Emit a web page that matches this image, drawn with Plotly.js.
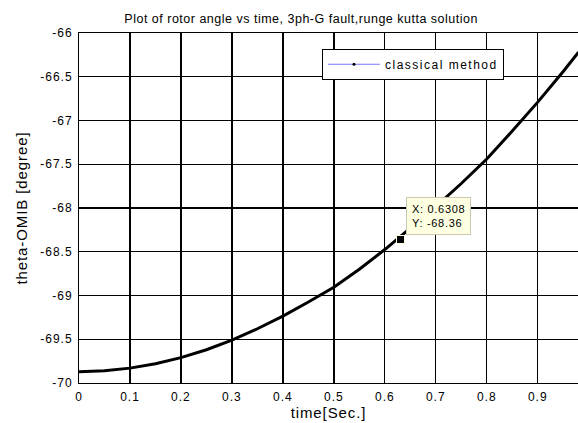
<!DOCTYPE html>
<html><head><meta charset="utf-8">
<script src="https://cdn.plot.ly/plotly-3.0.1.min.js"></script>
<style>
html,body{margin:0;padding:0;background:#fff}
#chart{width:578px;height:423px}
.gtitle{letter-spacing:0.5px}
.xtick text,.ytick text{letter-spacing:1px}
.xtitle,.ytitle{letter-spacing:0.9px}
.legendtext{letter-spacing:1.5px}
.annotation-text{letter-spacing:0.7px}
</style>
</head><body><div id="chart"></div>
<script>
const timeSec = [0, 0.05, 0.1, 0.15, 0.2, 0.25, 0.3, 0.35, 0.4, 0.45, 0.5, 0.55, 0.6, 0.65, 0.7, 0.75, 0.8, 0.85, 0.9, 0.95, 0.98];
const thetaDeg = [-69.87, -69.86, -69.83, -69.78, -69.71, -69.62, -69.51, -69.38, -69.235, -69.075, -68.905, -68.70, -68.475, -68.235, -67.985, -67.72, -67.44, -67.12, -66.79, -66.44, -66.22];
const tipX = [0.6308];
const tipY = [-68.36];
const xTicks = [0, 0.1, 0.2, 0.3, 0.4, 0.5, 0.6, 0.7, 0.8, 0.9];
const yTicks = [-70, -69.5, -69, -68.5, -68, -67.5, -67, -66.5, -66];
const legendName = 'classical method';

const font = {family: 'Liberation Sans, Arial, sans-serif', color: '#000'};
const f = s => Object.assign({size: s}, font);
const traces = [
  {x: timeSec, y: thetaDeg, mode: 'lines', line: {color: '#000', width: 3}, showlegend: false, hoverinfo: 'skip'},
  {x: tipX, y: tipY, mode: 'markers', marker: {symbol: 'square', size: 8, color: '#000', line: {color: '#ffffe1', width: 1}}, showlegend: false},
  {x: [null], y: [null], mode: 'lines+markers', name: legendName, line: {color: '#7878ff', width: 1.2}, marker: {color: '#000', size: 3}}
];
const layout = {
  width: 578, height: 423,
  margin: {l: 79, r: 0, t: 33, b: 40},
  paper_bgcolor: '#fff', plot_bgcolor: '#fff',
  font: f(12),
  title: {text: 'Plot of rotor angle vs time, 3ph-G fault,runge kutta solution', font: f(12.5), x: 0.521, xanchor: 'center', y: 0.956, yanchor: 'middle'},
  xaxis: {range: [0, 0.979], tickvals: xTicks, ticktext: xTicks.map(String), showgrid: true, gridcolor: '#000', gridwidth: 1.3,
    showline: true, linecolor: '#000', linewidth: 1, mirror: true, zeroline: false, ticks: '', ticklabelstandoff: 3,
    tickfont: f(12),
    title: {text: 'time[Sec.]', font: f(15), standoff: 0}},
  yaxis: {range: [-70, -66], tickvals: yTicks, ticktext: yTicks.map(String), showgrid: true, gridcolor: '#000', gridwidth: 1.3,
    showline: true, linecolor: '#000', linewidth: 1, zeroline: false, ticks: '', ticklabelstandoff: 3,
    tickfont: f(12),
    title: {text: 'theta-OMIB [degree]', font: f(15), standoff: 8}},
  legend: {x: 0.487, y: 0.955, xanchor: 'left', yanchor: 'top', bgcolor: '#fff', bordercolor: '#000', borderwidth: 1,
    font: f(12), itemwidth: 52, tracegroupgap: 0},
  annotations: [{x: tipX[0], y: tipY[0], xref: 'x', yref: 'y', xanchor: 'left', yanchor: 'bottom', xshift: 5, yshift: 5,
    text: 'X: ' + tipX[0] + '<br>Y: ' + tipY[0], showarrow: false, align: 'left',
    bgcolor: '#ffffe1', bordercolor: '#c8c8b4', borderwidth: 1, borderpad: 5, font: f(11)}]
};
Plotly.newPlot('chart', traces, layout, {displayModeBar: false, staticPlot: true});
</script></body></html>
